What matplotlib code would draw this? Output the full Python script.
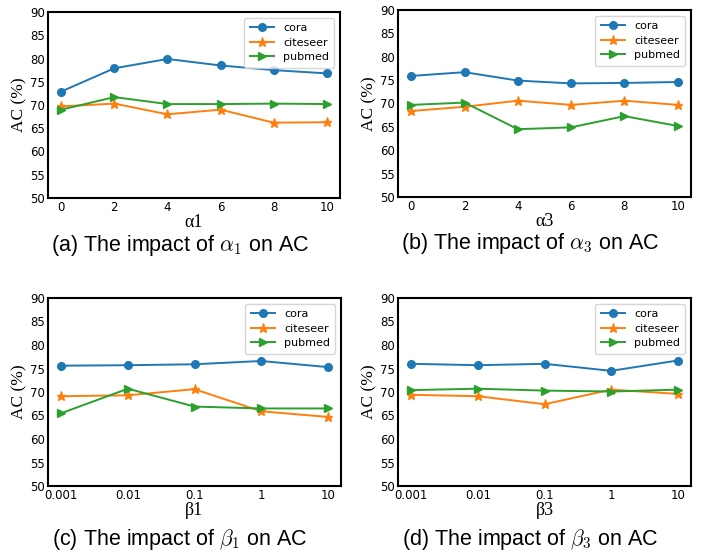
import matplotlib
matplotlib.use("Agg")
import matplotlib.pyplot as plt

plt.rcParams['mathtext.fontset'] = 'cm'

datasets = ['cora', 'citeseer', 'pubmed']
markers = ['o', '*', '>']
colors = ['#1f77b4', '#ff7f0e', '#2ca02c']
msizes = [5.5, 6.5, 5.5]

alpha_x = [0, 2, 4, 6, 8, 10]
beta_labels = ['0.001', '0.01', '0.1', '1', '10']

a1_cora = [72.9, 77.9, 79.9, 78.5, 77.5, 76.8]
a1_citeseer = [69.7, 70.3, 68.0, 69.0, 66.2, 66.3]
a1_pubmed = [69.0, 71.7, 70.2, 70.2, 70.3, 70.2]

a3_cora = [75.9, 76.7, 74.9, 74.3, 74.4, 74.6]
a3_citeseer = [68.4, 69.3, 70.6, 69.7, 70.6, 69.7]
a3_pubmed = [69.7, 70.2, 64.5, 64.9, 67.3, 65.2]

b1_cora = [75.6, 75.7, 75.9, 76.6, 75.3]
b1_citeseer = [69.1, 69.3, 70.6, 65.9, 64.7]
b1_pubmed = [65.5, 70.7, 66.9, 66.5, 66.5]

b3_cora = [76.0, 75.7, 76.0, 74.5, 76.7]
b3_citeseer = [69.4, 69.1, 67.4, 70.5, 69.6]
b3_pubmed = [70.4, 70.7, 70.3, 70.1, 70.5]

fig = plt.figure(figsize=(7.05, 5.52), dpi=100)
W, H = 705, 552

panels = [
    dict(rect=(48, 12, 340, 198), x=alpha_x, ticks=None, series=[a1_cora, a1_citeseer, a1_pubmed],
         xlabel='α1', cap=r'(a) The impact of $\alpha_1$ on AC', capy=246, capx=180),
    dict(rect=(398, 10, 691, 197), x=alpha_x, ticks=None, series=[a3_cora, a3_citeseer, a3_pubmed],
         xlabel='α3', cap=r'(b) The impact of $\alpha_3$ on AC', capy=244, capx=530),
    dict(rect=(48, 298, 341, 486), x=list(range(len(beta_labels))), ticks=beta_labels,
         series=[b1_cora, b1_citeseer, b1_pubmed],
         xlabel='β1', cap=r'(c) The impact of $\beta_1$ on AC', capy=539, capx=180),
    dict(rect=(398, 298, 691, 486), x=list(range(len(beta_labels))), ticks=beta_labels,
         series=[b3_cora, b3_citeseer, b3_pubmed],
         xlabel='β3', cap=r'(d) The impact of $\beta_3$ on AC', capy=539, capx=530),
]

for p in panels:
    l, t, r, b = p['rect']
    ax = fig.add_axes([l / W, 1 - b / H, (r - l) / W, (b - t) / H])
    for name, mk, c, ms, ys in zip(datasets, markers, colors, msizes, p['series']):
        ax.plot(p['x'], ys, marker=mk, color=c, label=name, markersize=ms, linewidth=1.4)
    ax.set_ylim(50, 90)
    ax.set_yticks(range(50, 91, 5))
    ax.set_xticks(p['x'])
    if p['ticks'] is not None:
        ax.set_xticklabels(p['ticks'])
    ax.tick_params(length=0, labelsize=8.5, pad=2)
    for s in ax.spines.values():
        s.set_linewidth(1.5)
        s.set_color('black')
    ax.set_ylabel('AC (%)', family='Liberation Serif', fontsize=12.5, labelpad=2)
    ax.set_xlabel(p['xlabel'], family='Liberation Serif', fontsize=13, labelpad=0)
    ax.legend(loc='upper right', fontsize=8, framealpha=0.8, borderpad=0.5,
              handlelength=2.2, labelspacing=0.4)
    fig.text(p['capx'] / W, 1 - p['capy'] / H, p['cap'], family='Liberation Sans', fontsize=15.5,
             ha='center', va='center')

fig.savefig('out.png', dpi=100)
